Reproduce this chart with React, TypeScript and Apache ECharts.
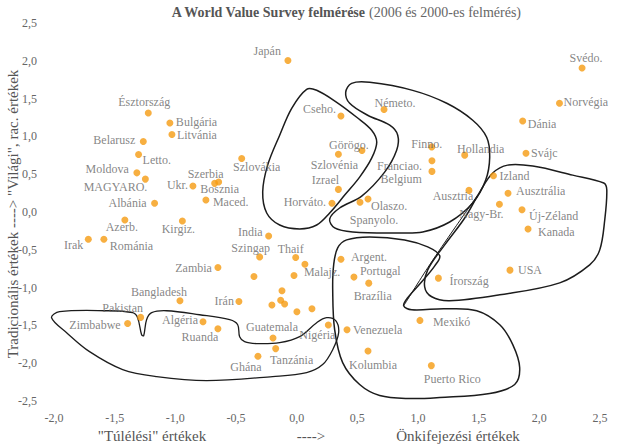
import { useEffect, useRef } from 'react';
import * as echarts from 'echarts';

const FONT = '"Liberation Serif", "DejaVu Serif", serif';

const TITLE_MAIN = 'A World Value Survey felmérése';
const TITLE_SUB = '(2006 és 2000-es felmérés)';
const Y_NAME = 'Tradicionális értékek ----> "Világi", rac. értékek';
const X_NAME_LEFT = '"Túlélési" értékek';
const X_NAME_MID = '---->';
const X_NAME_RIGHT = 'Önkifejezési értékek';

const COUNTRIES = [
  'Észtország', 'Bulgária', 'Litvánia', 'Belarusz', 'Letto.', 'Moldova', 'MAGYARO.', 'Albánia',
  'Azerb.', 'Irak', 'Románia', 'Kirgiz.', 'Ukr.', 'Szerbia', 'Bosznia', 'Maced.', 'Szlovákia',
  'India', 'Szingap', 'Japán', 'Cseho.', 'Szlovénia', 'Görögo.', 'Izrael', 'Horváto.',
  'Spanyolo.', 'Olaszo.', 'Németo.', 'Finno.', 'Franciao.', 'Belgium', 'Svédo.', 'Norvégia',
  'Dánia', 'Svájc', 'Hollandia', 'Izland', 'Ausztrália', 'Ausztria', 'Nagy-Br.', 'Új-Zéland',
  'Kanada', 'USA', 'Írország', 'Thaif', 'Malajz.', 'Zambia', '', '', 'Bangladesh', 'Irán',
  '', '', '', '', '', '', 'Pakistan', 'Zimbabwe', 'Algéria', 'Ruanda', 'Guatemala', 'Nigéria',
  'Tanzánia', 'Ghána', 'Argent.', 'Portugal', 'Brazília', 'Venezuela', 'Mexikó', 'Kolumbia',
  'Puerto Rico',
];

// Survival (-) vs self-expression (+) values
const X_VALUES = [
  -1.223, -1.045, -1.028, -1.264, -1.303, -1.317, -1.247, -1.171,
  -1.416, -1.717, -1.589, -0.942, -0.855, -0.676, -0.643, -0.748, -0.453,
  -0.231, -0.305, -0.072, 0.365, 0.344, 0.538, 0.344, 0.291,
  0.522, 0.588, 0.72, 1.113, 1.115, 1.115, 2.352, 2.166,
  1.863, 1.89, 1.385, 1.622, 1.742, 1.42, 1.671, 1.857,
  1.907, 1.758, 1.168, -0.008, 0.068, -0.649, -0.352, -0.022, -0.962, -0.476,
  -0.121, -0.132, -0.099, -0.204, 0.002, 0.126, -1.286, -1.393, -0.772, -0.649, -0.195, 0.261,
  -0.173, -0.319, 0.365, 0.472, 0.594, 0.415, 1.016, 0.588,
  1.11,
];

// Traditional (-) vs secular-rational (+) values
const Y_VALUES = [
  1.31, 1.178, 1.025, 0.933, 0.761, 0.518, 0.435, 0.115,
  -0.106, -0.36, -0.36, -0.119, 0.343, 0.379, 0.396, 0.158, 0.708,
  -0.317, -0.594, 2.005, 1.27, 0.765, 0.814, 0.299, 0.115,
  0.128, 0.172, 1.355, 0.861, 0.677, 0.537, 1.904, 1.438,
  1.204, 0.778, 0.752, 0.479, 0.247, 0.286, 0.102, 0.03,
  -0.224, -0.769, -0.875, -0.603, -0.69, -0.735, -0.854, -0.84, -1.174, -1.183,
  -1.042, -1.168, -1.218, -1.231, -1.319, -1.28, -1.394, -1.474, -1.451, -1.544, -1.666, -1.495,
  -1.807, -1.909, -0.624, -0.861, -0.941, -1.557, -1.434, -1.838,
  -2.032,
];

// label placement: [side, dx, dy] (l = label left of point, r = right, c = centred)
const LABEL_POS: Record<string, [string, number, number]> = {
  'Észtország': ['c', -4, -11], 'Bulgária': ['r', 6, -1], 'Litvánia': ['r', 5, 0],
  'Belarusz': ['l', -8, -1], 'Letto.': ['r', 4, 6], 'Moldova': ['l', -8, -4],
  'MAGYARO.': ['l', 2, 8], 'Albánia': ['l', -8, 0], 'Azerb.': ['c', -3, 7],
  'Irak': ['l', -5, 6], 'Románia': ['r', 6, 7], 'Kirgiz.': ['c', -4, 8],
  'Ukr.': ['l', -5, -1], 'Szerbia': ['c', -9, -9], 'Bosznia': ['c', 1, 7],
  'Maced.': ['r', 7, 2], 'Szlovákia': ['c', 15, 9], 'India': ['l', -6, -4],
  'Szingap': ['c', -9, -9], 'Japán': ['l', -7, -9], 'Cseho.': ['l', -5, -7],
  'Szlovénia': ['c', -4, 11], 'Görögo.': ['c', -13, -5], 'Izrael': ['c', -13, -9],
  'Horváto.': ['l', -6, -1], 'Spanyolo.': ['c', 14, 18], 'Olaszo.': ['r', 3, 7],
  'Németo.': ['c', 11, -7], 'Finno.': ['c', -5, -3], 'Franciao.': ['l', -10, 5],
  'Belgium': ['l', -10, 8], 'Svédo.': ['c', 4, -10], 'Norvégia': ['r', 4, -1],
  'Dánia': ['r', 5, 3], 'Svájc': ['r', 5, 0], 'Hollandia': ['c', 16, -6],
  'Izland': ['r', 6, 0], 'Ausztrália': ['r', 8, -2], 'Ausztria': ['c', -16, 6],
  'Nagy-Br.': ['c', -18, 10], 'Új-Zéland': ['r', 7, 6], 'Kanada': ['r', 10, 3],
  'USA': ['r', 8, 0], 'Írország': ['r', 11, 3], 'Thaif': ['c', -5, -9],
  'Malajz.': ['r', -1, 8], 'Zambia': ['l', -6, 0], 'Bangladesh': ['c', -21, -9],
  'Irán': ['l', -5, 0], 'Pakistan': ['c', -18, -9], 'Zimbabwe': ['l', -7, 2],
  'Algéria': ['l', -5, -2], 'Ruanda': ['c', -18, 8], 'Guatemala': ['c', -1, -11],
  'Nigéria': ['c', -11, 10], 'Tanzánia': ['c', 16, 11], 'Ghána': ['c', -12, 11],
  'Argent.': ['r', 10, -2], 'Portugal': ['r', 6, -6], 'Brazília': ['c', 4, 13],
  'Venezuela': ['r', 6, 0], 'Mexikó': ['r', 13, 2], 'Kolumbia': ['c', 5, 14],
  'Puerto Rico': ['c', 21, 13],
};

// Cultural-zone outlines, in data units
const ZONE_CATHOLIC_EAST: number[][] = [
  [0.082, 1.623], [0.165, 1.61], [0.33, 1.451], [0.495, 1.253], [0.618, 1.082], [0.66, 0.923],
  [0.618, 0.712], [0.519, 0.462], [0.396, 0.224], [0.272, -0.013], [0.165, -0.172], [0.025, -0.224],
  [-0.14, -0.172], [-0.247, -0.013], [-0.28, 0.264], [-0.239, 0.62], [-0.14, 1.016], [-0.041, 1.372],
];
const ZONE_EUROPE: number[][] = [
  [0.453, 1.702], [0.602, 1.715], [0.956, 1.609], [1.237, 1.438], [1.451, 1.214], [1.566, 0.989],
  [1.591, 0.726], [1.558, 0.422], [1.451, 0.119], [1.261, -0.132], [1.039, -0.264], [0.824, -0.277],
  [0.462, -0.264], [0.313, -0.211], [0.272, -0.092], [0.354, 0.053], [0.536, 0.211], [0.725, 0.528],
  [0.824, 0.818], [0.833, 1.016], [0.767, 1.148], [0.585, 1.28], [0.437, 1.438], [0.404, 1.583],
];
const ZONE_ENGLISH: number[][] = [
  [1.616, 0.515], [1.739, 0.62], [1.946, 0.607], [2.275, 0.488], [2.531, 0.383], [2.556, 0.29],
  [2.539, -0.106], [2.498, -0.501], [2.415, -0.699], [2.168, -0.937], [1.674, -1.095], [1.261, -1.174],
  [1.113, -1.121], [1.055, -0.989], [1.08, -0.765], [1.22, -0.435], [1.385, -0.079], [1.509, 0.264],
];
const ZONE_LATIN: number[][] = [
  [0.412, -0.369], [0.602, -0.33], [0.89, -0.369], [1.08, -0.462], [1.179, -0.58], [1.138, -0.712],
  [1.031, -0.923], [0.915, -1.135], [0.882, -1.24], [0.948, -1.293], [1.22, -1.28], [1.484, -1.306],
  [1.674, -1.491], [1.781, -1.755], [1.838, -2.058], [1.797, -2.282], [1.591, -2.401], [1.179, -2.454],
  [0.932, -2.467], [0.684, -2.427], [0.519, -2.282], [0.379, -1.992], [0.313, -1.557], [0.297, -1.029],
  [0.305, -0.699], [0.338, -0.475],
];
const ZONE_LATIN_TAIL: number[][] = [
  [0.882, -1.24], [1.096, -0.699], [1.303, -0.211], [1.492, 0.224],
];
const ZONE_AFRICA: number[][] = [
  [-2.02, -1.398], [-1.954, -1.319], [-1.566, -1.306], [-1.352, -1.332], [-1.311, -1.398],
  [-1.278, -1.623], [-1.261, -1.636], [-1.237, -1.425], [-1.195, -1.332], [-1.072, -1.306],
  [-0.8, -1.359], [-0.552, -1.425], [-0.486, -1.491], [-0.47, -1.649], [-0.429, -1.715],
  [-0.33, -1.741], [-0.14, -1.728], [0.025, -1.649], [0.165, -1.464], [0.247, -1.398],
  [0.322, -1.438], [0.346, -1.596], [0.297, -1.821], [0.214, -2.018], [0.082, -2.124],
  [-0.198, -2.177], [-0.742, -2.23], [-1.154, -2.177], [-1.434, -2.084], [-1.707, -1.847],
  [-1.896, -1.596],
];

const OUTLINES = [
  { pts: ZONE_CATHOLIC_EAST, closed: true, w: 1.5 },
  { pts: ZONE_EUROPE, closed: true, w: 1.5 },
  { pts: ZONE_ENGLISH, closed: true, w: 1.5 },
  { pts: ZONE_LATIN, closed: true, w: 1.5 },
  { pts: ZONE_LATIN_TAIL, closed: false, w: 1 },
  { pts: ZONE_AFRICA, closed: true, w: 1.3 },
];

const fmt = (v: number) => v.toFixed(1).replace('.', ',');

export default function App() {
  const ref = useRef<HTMLDivElement>(null);
  useEffect(() => {
    if (!ref.current) return;
    const chart = echarts.init(ref.current, null, { renderer: 'svg' });
    const points = COUNTRIES.map((name, i) => {
      const p = LABEL_POS[name];
      return {
        name,
        value: [X_VALUES[i], Y_VALUES[i]],
        label: p
          ? {
              show: true,
              position: 'inside',
              align: p[0] === 'l' ? 'right' : p[0] === 'r' ? 'left' : 'center',
              verticalAlign: 'middle',
              offset: [p[1], p[2]],
            }
          : { show: false },
      };
    });
    const nameStyle = { align: 'center', verticalAlign: 'middle', fontFamily: FONT, fontSize: 15, fill: '#555' };
    chart.setOption({
      animation: false,
      backgroundColor: '#ffffff',
      textStyle: { fontFamily: FONT },
      grid: { left: 54, right: 20, top: 23, bottom: 43, containLabel: false, outerBoundsMode: 'none' },
      xAxis: {
        type: 'value',
        min: -2,
        max: 2.5,
        interval: 0.5,
        axisLine: { show: false },
        axisTick: { show: false },
        splitLine: { show: false },
        axisLabel: { formatter: fmt, color: '#666', fontFamily: FONT, fontSize: 12, margin: 11 },
      },
      yAxis: {
        type: 'value',
        min: -2.5,
        max: 2.5,
        interval: 0.5,
        axisLine: { show: false },
        axisTick: { show: false },
        splitLine: { show: false },
        axisLabel: { formatter: fmt, color: '#666', fontFamily: FONT, fontSize: 12, margin: 17 },
      },
      graphic: [
        {
          type: 'text',
          x: 346,
          y: 12,
          style: {
            text: `{b|${TITLE_MAIN}} {n|${TITLE_SUB}}`,
            align: 'center',
            verticalAlign: 'middle',
            rich: {
              b: { fontFamily: FONT, fontWeight: 'bold', fontSize: 14, fill: '#555' },
              n: { fontFamily: FONT, fontSize: 14, fill: '#666' },
            },
          },
        },
        { type: 'text', x: 13, y: 214, rotation: Math.PI / 2, style: { text: Y_NAME, ...nameStyle } },
        { type: 'text', x: 152, y: 436, style: { text: X_NAME_LEFT, ...nameStyle } },
        { type: 'text', x: 311, y: 436, style: { text: X_NAME_MID, ...nameStyle } },
        { type: 'text', x: 458, y: 436, style: { text: X_NAME_RIGHT, ...nameStyle } },
      ],
      series: [
        {
          type: 'custom',
          coordinateSystem: 'cartesian2d',
          silent: true,
          clip: false,
          z: 1,
          data: OUTLINES.map((_, i) => [0, 0, i]),
          renderItem: (params: any, api: any) => {
            const o = OUTLINES[params.dataIndex];
            const pts = o.pts.map((p) => api.coord(p));
            return {
              type: o.closed ? 'polygon' : 'polyline',
              shape: { points: pts, smooth: 0.35 },
              style: { fill: 'none', stroke: '#1c1c1c', lineWidth: o.w },
            };
          },
        },
        {
          type: 'scatter',
          z: 3,
          symbol: 'circle',
          symbolSize: 7,
          itemStyle: { color: '#F59B12' },
          emphasis: { disabled: true },
          label: { formatter: '{b}', color: '#666', fontFamily: FONT, fontSize: 12, lineHeight: 11 },
          data: points,
        },
      ],
    });
    return () => chart.dispose();
  }, []);
  return (
    <div
      ref={ref}
      style={{ position: 'fixed', left: 0, top: 0, width: 620, height: 444, background: '#fff' }}
    />
  );
}
